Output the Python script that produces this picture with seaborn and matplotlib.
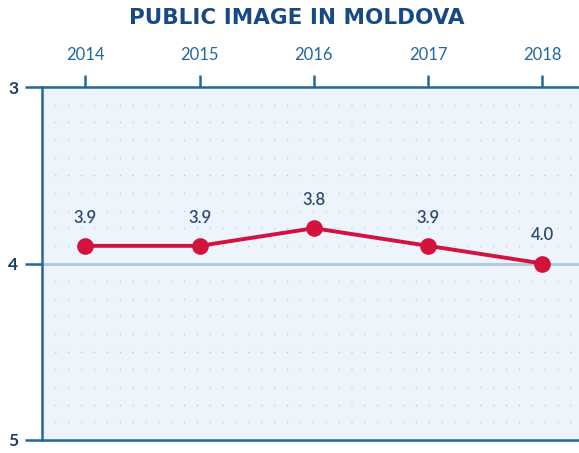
import seaborn as sns
import matplotlib.pyplot as plt
import numpy as np
import pandas as pd

years = [2014, 2015, 2016, 2017, 2018]
scores = [3.9, 3.9, 3.8, 3.9, 4.0]
score_labels = ["3.9", "3.9", "3.8", "3.9", "4.0"]

df = pd.DataFrame({"year": years, "score": scores})

sns.set_style("white")
plt.rcParams['font.family'] = ['Lato', 'DejaVu Sans']

fig = plt.figure(figsize=(5.79, 4.53), dpi=100)
ax = fig.add_axes([42/579, 13/453, 1 - 42/579, 353/453])

dark = "#23679b"
ax.set_facecolor("#eef4fb")

# dotted grid every 0.1
for yv in np.arange(3.1, 5.0, 0.1):
    if abs(yv - 4.0) < 1e-6:
        continue
    ax.axhline(yv, color="#a9bccd", lw=0.9, ls=(0, (0.8, 9.5)), zorder=1)

ax.axhline(4.0, color="#a9c9de", lw=2, zorder=2)

sns.lineplot(data=df, x="year", y="score", ax=ax, color="#d3123e", lw=2.8,
             marker="o", markersize=12, markeredgewidth=0, zorder=5)

for x, y, t in zip(years, scores, score_labels):
    ax.text(x, y - 0.16, t, ha="center", va="center", fontsize=12,
            fontweight="semibold", color="#2b4b72", zorder=6)

ax.set_xlim(2013.62, 2018.32)
ax.set_ylim(5, 3)
ax.set_yticks([3, 4, 5])
ax.set_yticklabels(["3", "4", "5"], fontsize=12.5, fontweight="bold", color="#1d3f66")
ax.set_xticks(years)
ax.set_xticklabels([str(y) for y in years], fontsize=12, color=dark)
ax.xaxis.tick_top()
ax.tick_params(axis="x", length=9, width=1.8, color=dark, pad=8, top=True, bottom=False)
ax.tick_params(axis="y", length=12, width=1.8, color=dark, pad=5, left=True)
ax.set_xlabel("")
ax.set_ylabel("")

for s in ["left", "top", "bottom"]:
    ax.spines[s].set_color(dark)
    ax.spines[s].set_linewidth(1.8)
ax.spines["right"].set_visible(False)

fig.text(0.512, 0.96, "PUBLIC IMAGE IN MOLDOVA", ha="center", va="center",
         fontsize=15.5, fontweight="heavy", family="DejaVu Sans", color="#174a85")

fig.savefig("out.png", dpi=100)
